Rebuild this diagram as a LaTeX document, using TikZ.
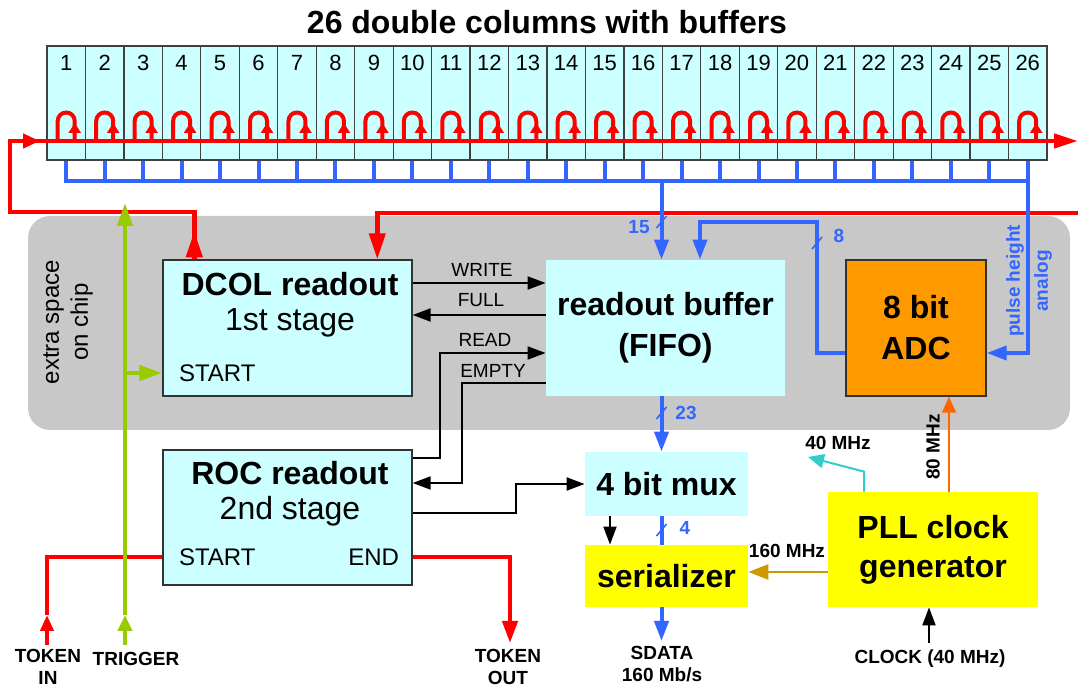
\documentclass[tikz,border=0pt]{standalone}
\usepackage{fontspec}
\setmainfont{Liberation Sans}
\usetikzlibrary{arrows.meta}
\definecolor{cellcyan}{HTML}{CCFFFF}
\definecolor{tokred}{HTML}{FF0000}
\definecolor{busblue}{HTML}{3366FF}
\definecolor{trigreen}{HTML}{99CC00}
\definecolor{chipgray}{HTML}{C8C8C8}
\definecolor{adcorange}{HTML}{FF9900}
\definecolor{clkorange}{HTML}{FF6600}
\definecolor{clkgold}{HTML}{CC9900}
\definecolor{clkcyan}{HTML}{33CCCC}
\definecolor{plyellow}{HTML}{FFFF00}

\begin{document}
\begin{tikzpicture}[
        x=0.5pt, y=-0.5pt,
        colbox/.style={draw=black!75, fill=cellcyan, line width=0.6pt, minimum width=19.23pt, minimum height=57pt, inner sep=0pt},
        colnum/.style={font=\fontsize{11}{13}\selectfont},
        blockbox/.style={draw=black!80, fill=cellcyan, line width=0.7pt, inner sep=0pt},
        flatbox/.style={fill=cellcyan, inner sep=0pt, align=center, font=\fontsize{16}{20.5}\selectfont\bfseries},
        bigtext/.style={align=center, font=\fontsize{16}{17.5}\selectfont},
        pintext/.style={font=\fontsize{12}{14}\selectfont},
        siglabel/.style={font=\fontsize{9.5}{11}\selectfont},
        iolabel/.style={align=center, font=\fontsize{9.5}{11}\selectfont\bfseries},
        buslabel/.style={text=busblue, font=\fontsize{9.5}{11}\selectfont\bfseries},
        redline/.style={tokred, line width=2.2pt},
        looppath/.style={tokred, line width=2pt},
        looptip/.style={tokred, line width=1.6pt, -{Triangle[length=5pt, width=6pt]}},
        bbus/.style={busblue, line width=2pt},
        bluearrow/.style={bbus, -{Triangle[length=10pt, width=7pt]}},
        sigarrow/.style={black, line width=1pt, -{Triangle[length=9pt, width=6.5pt]}},
        trig/.style={trigreen, line width=2.2pt},
    ]
    \useasboundingbox (0,0) rectangle (1078,689);

    % ==========================================
    % CHIP AREA (gray)
    % ==========================================
    \fill[chipgray, rounded corners=11pt] (28,216) rectangle (1070,430);
    \node[rotate=90, align=center, font=\fontsize{12}{14.5}\selectfont] (xspace) at (68,322) {extra space\\on chip};

    % ==========================================
    % DOUBLE COLUMNS
    % ==========================================
    \node[font=\fontsize{16}{19}\selectfont\bfseries] (title) at (547,22) {26 double columns with buffers};
    \foreach \i in {1,...,26}{
        \pgfmathsetmacro\cx{47+(\i-0.5)*38.46}
        \node[colbox] (col\i) at (\cx,103) {};
        \node[colnum] (num\i) at (\cx,63) {\i};
        \draw[looppath] ({\cx-8.5},141) -- ({\cx-8.5},121) arc[start angle=180, end angle=0, radius=4.25pt] -- ({\cx+8.5},141);
        \draw[looptip] ({\cx+8.5},139) -- ({\cx+8.5},123);
    }

    % ==========================================
    % BLOCKS
    % ==========================================
    \node[blockbox, minimum width=124.5pt, minimum height=68pt] (dcol) at (287.5,328) {};
    \node[bigtext] (dcoltxt) at (290,305) {\textbf{DCOL readout}\\1st stage};
    \node[pintext, anchor=west] (dcolstart) at (172,373) {START};

    \node[blockbox, minimum width=124.5pt, minimum height=67.5pt] (roc) at (287.5,517.5) {};
    \node[bigtext] (roctxt) at (290,494) {\textbf{ROC readout}\\2nd stage};
    \node[pintext, anchor=west] (rocstart) at (172,557) {START};
    \node[pintext, anchor=east] (rocend) at (406,557) {END};

    \node[flatbox, minimum width=119.5pt, minimum height=68pt] (fifo) at (665.5,328) {readout buffer\\(FIFO)};
    \node[flatbox, draw=black!80, line width=0.7pt, fill=adcorange, minimum width=70pt, minimum height=68pt] (adc) at (916,328) {8 bit\\ADC};
    \node[flatbox, minimum width=81.5pt, minimum height=32pt] (mux) at (666.5,484) {4 bit mux};
    \node[flatbox, fill=plyellow, minimum width=81.5pt, minimum height=31pt] (ser) at (666.5,576) {serializer};
    \node[flatbox, fill=plyellow, minimum width=105pt, minimum height=57.5pt, font=\fontsize{16}{19.5}\selectfont\bfseries] (pll) at (933,549.5) {PLL clock\\generator};

    % ==========================================
    % TOKEN (red)
    % ==========================================
    \coordinate (tokleft) at (10,141);
    \coordinate (tokright) at (1078,141);
    \coordinate (tokback) at (1078,213);
    \draw[redline, -{Triangle[length=13pt, width=8pt]}] ([xshift=16pt]dcol.north west) -- ++(0,-28);
    \draw[redline, -{Triangle[length=12pt, width=7pt]}] ([xshift=16pt]dcol.north west) -- ++(0,-47) -| (tokleft) -- (tokright);
    \draw[redline, -{Triangle[length=8.5pt, width=7pt]}] (tokleft) -- ++(30,0);
    \draw[redline, -{Triangle[length=13pt, width=8pt]}] (tokback) -| ([xshift=107.5pt]dcol.north west);

    \coordinate (tokin) at (47,645);
    \coordinate (tokout) at (510,643);
    \draw[redline, -{Triangle[length=8pt, width=6.5pt]}] (tokin) -- ++(0,-30);
    \draw[redline] ([yshift=15pt]tokin) |- (rocstart -| roc.west);
    \draw[redline, -{Triangle[length=11pt, width=7.5pt]}] (rocend -| roc.east) -| (tokout);
    \node[iolabel] (ltokin) at (48,667) {TOKEN\\IN};
    \node[iolabel] (ltokout) at (508,667) {TOKEN\\OUT};

    % ==========================================
    % DATA BUS (blue)
    % ==========================================
    \foreach \i in {1,...,26}{
        \draw[bbus] (col\i.south) -- ++(0,20);
    }
    \draw[bbus, line cap=rect] ([yshift=-10pt]col1.south) -- ([yshift=-10pt]col26.south);
    \draw[bluearrow] (col26.south) |- ([yshift=-12.5pt]adc.east);
    \node[buslabel, rotate=90, align=center, font=\fontsize{9.5}{14}\selectfont\bfseries] (ph) at (1029,281) {pulse height\\analog};

    \coordinate (busfifo) at (661.5,180);
    \coordinate (adcbend) at (817,222);
    \coordinate (fifoin) at (700,0);
    \coordinate (sdata) at (661.5,641);
    \draw[bluearrow] (busfifo) -- (fifo.north -| busfifo);
    \draw[bluearrow] ([yshift=-12.5pt]adc.west) -| (adcbend) -| (fifo.north -| fifoin);
    \draw[bluearrow] (fifo.south -| busfifo) -- (mux.north -| busfifo);
    \draw[bbus] (mux.south -| busfifo) -- (ser.north -| busfifo);
    \draw[bluearrow] (ser.south -| busfifo) -- (sdata);
    \foreach \sx/\sy in {661.5/222, 661.5/413, 661.5/530, 817/243}{
        \draw[busblue, line width=0.8pt] ({\sx-5},{\sy+6}) -- ({\sx+5},{\sy-6});
    }
    \node[buslabel] (w15) at (639,227) {15};
    \node[buslabel] (w8) at (839,236) {8};
    \node[buslabel] (w23) at (686,413) {23};
    \node[buslabel] (w4) at (685,528) {4};
    \node[iolabel] (lsdata) at (662,664) {SDATA\\160 Mb/s};

    % ==========================================
    % CONTROL SIGNALS (black)
    % ==========================================
    \draw[sigarrow] ([yshift=22.5pt]dcol.east) -- ([yshift=22.5pt]fifo.west);
    \draw[sigarrow] ([yshift=6.5pt]fifo.west) -- ([yshift=6.5pt]dcol.east);
    \draw[sigarrow] ([yshift=29.75pt]roc.east) -- ++(27,0) |- ([yshift=-12.5pt]fifo.west);
    \draw[sigarrow] ([yshift=-27.5pt]fifo.west) -- ++(-84,0) |- ([yshift=17.25pt]roc.east);
    \draw[sigarrow] ([yshift=2.25pt]roc.east) -- ++(103,0) |- (mux.west);
    \draw[sigarrow] ([xshift=-28.25pt]mux.south) -- ([xshift=-28.25pt]ser.north);
    \node[siglabel] (lwrite) at (482,270) {WRITE};
    \node[siglabel] (lfull) at (481,300) {FULL};
    \node[siglabel] (lread) at (485,340) {READ};
    \node[siglabel] (lempty) at (493,371) {EMPTY};

    % ==========================================
    % CLOCKS
    % ==========================================
    \coordinate (adcclk) at (949,0);
    \coordinate (muxclk) at (864,0);
    \coordinate (clk40) at (808,457);
    \coordinate (g160) at ([yshift=-11.25pt]pll.west);
    \coordinate (clkin) at (929,643);
    \draw[clkorange, line width=1pt, -{Triangle[length=8pt, width=7pt]}] (pll.north -| adcclk) -- (adc.south -| adcclk);
    \draw[clkcyan, line width=1pt, -{Triangle[length=8pt, width=7pt]}] (pll.north -| muxclk) -- ++(0,-20) -- (clk40);
    \draw[clkgold, line width=1.4pt, -{Triangle[length=10pt, width=7.5pt]}] (g160) -- (g160 -| ser.east);
    \draw[sigarrow] (clkin) -- (clkin |- pll.south);
    \node[iolabel, rotate=90] (l80) at (933,447) {80 MHz};
    \node[iolabel] (l40) at (838,443) {40 MHz};
    \node[iolabel] (l160) at (787,551) {160 MHz};
    \node[iolabel] (lclk) at (930,659) {CLOCK (40 MHz)};

    % ==========================================
    % TRIGGER (green)
    % ==========================================
    \coordinate (trigin) at (125,645);
    \coordinate (trigtop) at (125,203);
    \draw[trig, -{Triangle[length=8pt, width=7pt]}] (trigin) -- ++(0,-30);
    \draw[trig, -{Triangle[length=11.5pt, width=7.5pt]}] ([yshift=15pt]trigin) -- (trigtop);
    \draw[trig, -{Triangle[length=11.5pt, width=7.5pt]}] (trigtop |- dcolstart) -- (dcolstart -| dcol.west);
    \node[iolabel] (ltrig) at (136,659) {TRIGGER};

\end{tikzpicture}
\end{document}
